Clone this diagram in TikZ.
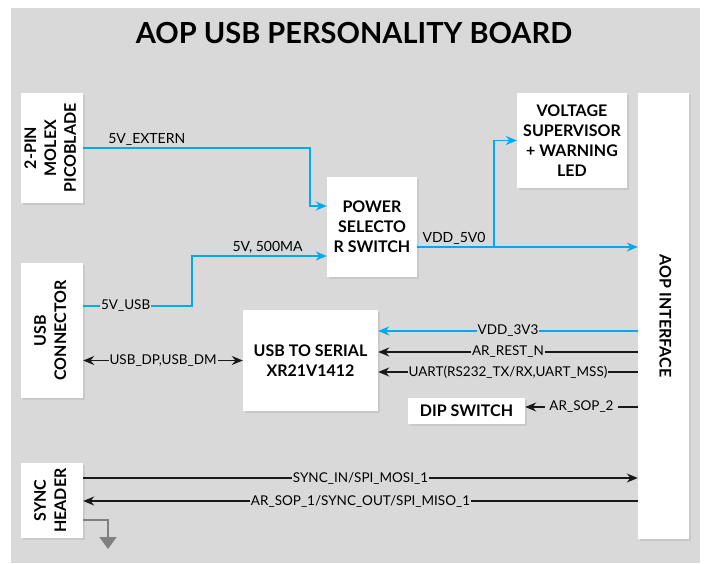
\documentclass[tikz,border=0pt]{standalone}
\usepackage{fontspec}
\setmainfont{Lato}
\usetikzlibrary{arrows.meta,shadows}

\definecolor{pwrblue}{RGB}{0,170,236}
\definecolor{bggray}{RGB}{217,217,217}
\definecolor{gndgray}{RGB}{128,128,128}

\newcommand{\sidetext}[2]{\rotatebox{#1}{\begin{tabular}{@{}c@{}}#2\end{tabular}}}

\begin{document}
\begin{tikzpicture}[x=1pt,y=-1pt,>={Stealth[length=11pt,width=9pt]},
    blk/.style={fill=white,align=center,inner sep=0pt,
        font=\fontsize{16}{20}\selectfont\bfseries,
        drop shadow={shadow xshift=2pt,shadow yshift=-2pt,fill=black,opacity=0.07}},
    sig/.style={line width=1.5pt,draw=black!90},
    pwr/.style={line width=1.5pt,draw=pwrblue},
    lbl/.style={fill=bggray,inner sep=1pt,font=\fontsize{13.5}{14}\selectfont},
    tag/.style={inner sep=2pt,font=\fontsize{14}{14}\selectfont}]

\fill[white] (0,0) rectangle (704,563);
\fill[bggray] (11,8) rectangle (700,563);
\useasboundingbox (0,0) rectangle (704,563);

\node[font=\fontsize{29}{30}\selectfont\bfseries] (title) at (354,33) {AOP USB PERSONALITY BOARD};

% blocks
\node[blk,minimum width=62pt,minimum height=110pt] (molex) at (52,148) {\sidetext{90}{2-PIN\\MOLEX\\PICOBLADE}};
\node[blk,minimum width=62pt,minimum height=135pt] (usbcon) at (52,330.5) {\sidetext{90}{USB\\CONNECTOR}};
\node[blk,minimum width=62pt,minimum height=75pt] (sync) at (52,500.5) {\sidetext{90}{SYNC\\HEADER}};
\node[blk,minimum width=90pt,minimum height=100pt] (power) at (372,227) {POWER\\SELECTO\\R SWITCH};
\node[blk,minimum width=110pt,minimum height=95pt] (volt) at (572,140.5) {VOLTAGE\\SUPERVISOR\\+ WARNING\\LED};
\node[blk,minimum width=135pt,minimum height=101pt] (usbser) at (310.5,360.5) {USB TO SERIAL\\XR21V1412};
\node[blk,minimum width=117pt,minimum height=26pt] (dip) at (466.5,411) {DIP SWITCH};
\node[blk,minimum width=51pt,minimum height=446pt] (aop) at (663.5,316) {\sidetext{-90}{AOP INTERFACE}};

% pins on the interface
\coordinate (a5v) at ([yshift=69pt]aop.west);
\coordinate (a3v3) at ([yshift=-15pt]aop.west);
\coordinate (arst) at ([yshift=-36pt]aop.west);
\coordinate (auart) at ([yshift=-56pt]aop.west);
\coordinate (asop2) at ([yshift=-91pt]aop.west);
\coordinate (amosi) at ([yshift=-162pt]aop.west);
\coordinate (amiso) at ([yshift=-185pt]aop.west);
\coordinate (gnd) at (108,549);

% power
\draw[pwr,->] (molex.east) -- node[tag,above,pos=0.28]{5V\_EXTERN} ++(227,0) |- ([yshift=21pt]power.west);
\draw[pwr,->] ([yshift=24.5pt]usbcon.east) -- node[lbl,pos=0.39]{5V\_USB} ++(109,0)
    |- node[tag,above,pos=0.78]{5V, 500MA} ([yshift=-29pt]power.west);
\draw[pwr,->] (power.east |- a5v) -- node[tag,above,pos=0.167]{VDD\_5V0} (a5v);
\draw[pwr,->] (power.east |- a5v) ++(77,0) |- (volt.west);
\draw[pwr,->] (a3v3) -- node[lbl]{VDD\_3V3} (a3v3 -| usbser.east);

% signals
\draw[sig,->] (arst) -- node[lbl]{AR\_REST\_N} (arst -| usbser.east);
\draw[sig,->] (auart) -- node[lbl]{UART(RS232\_TX/RX,UART\_MSS)} (auart -| usbser.east);
\draw[sig,->] (asop2) -- node[lbl,inner xsep=4pt]{AR\_SOP\_2} (asop2 -| dip.east);
\draw[sig,<->] (usbcon.east |- usbser.west) -- node[lbl]{USB\_DP,USB\_DM} (usbser.west);
\draw[sig,->] (amosi -| sync.east) -- node[lbl]{SYNC\_IN/SPI\_MOSI\_1} (amosi);
\draw[sig,->] (amiso) -- node[lbl]{AR\_SOP\_1/SYNC\_OUT/SPI\_MISO\_1} (amiso -| sync.east);

% ground
\draw[line width=1.5pt,gndgray,-{Triangle[width=17pt,length=12pt]}] ([yshift=-19.5pt]sync.east) -| (gnd);

\end{tikzpicture}
\end{document}
